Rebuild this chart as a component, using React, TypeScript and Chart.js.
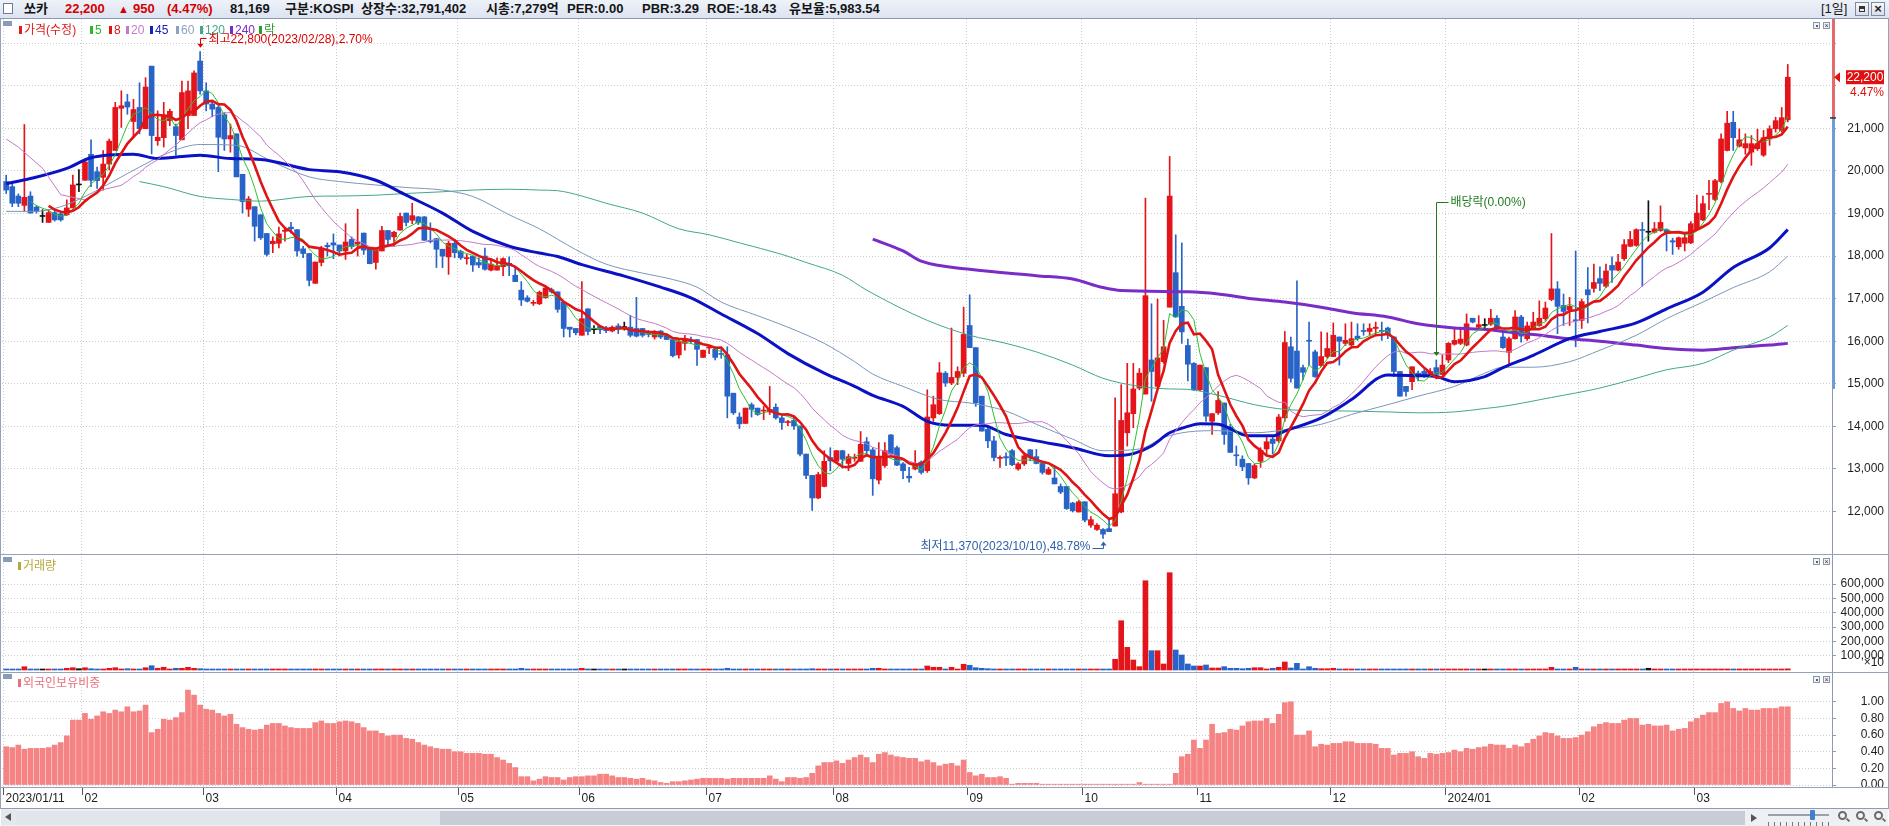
import React, { useEffect, useRef } from "react";
import { Chart, registerables } from "chart.js";

Chart.register(...registerables);

const FONT_NUM = "'Liberation Sans', Arial, sans-serif";
const FONT_KR = "'Liberation Sans', 'Noto Sans CJK KR', sans-serif";

// ---------------- DATA ----------------
const OPEN = [
  19750,19630,19410,19190,19410,19150,18930,18790,19020,18990,
  18970,19130,19670,19780,20390,19980,19850,20160,20480,21470,
  21620,21160,21490,20990,22460,20710,20780,21180,21040,20730,
  21300,21300,22580,21880,21570,21490,21320,20750,20870,19920,
  19100,19160,18970,18530,18290,18300,18580,18680,18620,18170,
  18060,17360,17850,18250,18310,18260,18120,18390,18280,18540,
  18160,17850,18120,18600,18450,18610,19010,18840,18920,18920,
  18360,18410,18160,17980,18300,18110,17940,18000,17850,18000,
  17670,17670,17750,17830,17550,17200,17020,16890,16880,17020,
  17210,17160,16920,16330,16300,16140,16760,16270,16350,16310,
  16240,16360,16320,16330,16300,16300,16190,16100,16240,16140,
  16040,15680,15950,16030,16040,15620,15840,15810,15700,15680,
  14780,14220,14070,14510,14430,14360,14340,14450,14200,14090,
  14140,14010,13350,12850,12320,12590,13270,13180,13430,13130,
  13250,13180,13640,13450,12740,13080,13800,13500,13120,12830,
  13000,13160,12960,14200,14300,15250,15020,15150,15250,16370,
  15850,14710,13930,13660,13250,13290,13430,13000,13120,13450,
  13290,13130,12880,12790,12590,12590,12200,11990,12230,11680,
  11580,11580,11600,11660,11990,13850,14300,14900,14760,15560,
  14940,15520,16800,17610,16820,15900,15480,14860,15380,14120,
  14320,14550,13990,13330,13230,13130,12790,13180,13470,13700,
  13660,14200,15870,15770,15380,16020,15750,15430,15640,15640,
  16100,15950,15910,16120,16240,16230,16300,16240,16310,16100,
  15290,14940,15050,15250,15290,15190,15380,15220,15560,15930,
  15950,15910,16540,16330,16370,16400,16540,16100,15740,16060,
  16570,16060,16310,16370,16530,16980,17230,16840,16740,16500,
  16490,17210,17240,17470,17290,17780,17670,17940,18230,18250,
  18610,18560,18560,18600,18620,18360,18220,18300,18310,18620,
  18850,19450,19330,19750,20480,21140,20580,20540,20440,20520,
  20370,20750,20990,20950,21200,
];
const HIGH = [
  19900,19710,19460,21090,19510,19190,19090,19090,19090,19050,
  19320,19900,20030,20250,20730,20090,20480,20750,21610,21880,
  21800,21680,22070,22190,22460,21410,21610,21450,21100,22110,
  22110,22350,22800,22070,21650,21530,21370,21100,20870,19920,
  19400,19160,18970,18530,18450,18680,18660,18790,18620,18230,
  18060,17860,18230,18310,18520,18260,18760,18450,19100,18540,
  18160,18170,18700,18600,18580,19010,19010,19240,18930,18930,
  18780,18410,18160,18350,18390,18140,18040,18000,17960,18190,
  17920,17960,17960,17980,17730,17400,17070,16960,17180,17290,
  17250,17160,16920,16330,16300,17400,16760,16370,16370,16350,
  16360,16410,16450,16610,17030,16300,16250,16250,16250,16140,
  16060,16020,16140,16100,16040,15790,15890,15870,15830,15870,
  14780,14320,14430,14550,14430,14470,14940,14530,14280,14140,
  14220,14010,13350,12850,12920,13430,13500,13440,13440,13350,
  13350,13880,13740,13500,13620,13620,13810,13540,13150,13040,
  13430,13190,14860,14710,15500,15290,16310,15400,16800,17090,
  15850,14710,13970,13770,13310,13380,13460,13150,13380,13460,
  13460,13160,13040,13040,12650,12590,12220,12260,12230,11880,
  11720,11600,11800,14670,14980,15480,15480,15360,19360,16880,
  16990,16490,20340,18500,18310,16050,15500,15440,15380,14300,
  14820,14550,14050,13540,13310,13130,13120,13500,13740,13780,
  14280,16230,16100,17420,15440,16450,15790,16220,16200,16430,
  16100,16410,16450,16410,16410,16410,16450,16450,16330,16100,
  15290,14940,15400,15300,15330,15360,15560,15680,15970,16290,
  16330,16640,16540,16600,16530,16750,16600,16210,16100,16720,
  16610,16450,16680,16950,16920,18530,17400,17110,17030,18120,
  16990,17730,17810,17750,17810,17980,18040,18390,18580,18640,
  18790,19300,18790,19180,18640,18420,18450,18530,18810,19430,
  19410,19780,19800,20870,21400,21400,20990,20870,20830,20980,
  20950,21060,21260,21490,22500,
];
const LOW = [
  19470,19160,19160,19050,19010,19010,18790,18790,18820,18820,
  18950,19130,19510,19780,19630,19590,19550,20020,20480,21020,
  21330,20790,20870,20990,20400,20600,20560,21060,20370,20730,
  20990,21300,21800,21410,21270,19980,20480,20440,19860,19010,
  18930,18350,18390,18000,18080,18190,18350,18540,18000,17960,
  17300,17360,17770,18000,17940,18000,17920,18170,18000,18040,
  17820,17690,18120,18230,18230,18610,18710,18760,18740,18370,
  18310,17730,17730,17570,17960,17920,17810,17640,17730,17670,
  17650,17670,17540,17540,17400,16840,16920,16840,16860,17010,
  17130,16680,16100,16100,16150,16140,16150,16180,16180,16200,
  16220,16180,16260,16100,16100,16100,16100,16050,16060,16040,
  15630,15600,15790,15950,15430,15620,15710,15560,15600,14200,
  14280,13950,14070,14220,14260,14160,14280,14170,13930,14020,
  13930,13310,12770,12030,12300,12580,12960,13160,13020,12960,
  13180,13180,13350,12380,12650,13040,13350,13080,12770,12690,
  12980,12880,12920,14120,14280,14940,14980,14980,15170,15850,
  14470,13890,13500,13190,13040,13080,13080,12970,13080,13190,
  13120,12880,12870,12650,12420,12050,11990,11990,11760,11630,
  11560,11370,11530,11660,11970,13540,13970,14860,14760,14590,
  14920,15480,16800,16570,15950,15070,14840,14840,14120,13810,
  14280,13580,13390,13080,12960,12640,12770,13040,13310,13350,
  13620,14120,15040,14900,15090,15440,15150,15400,15600,15640,
  15440,15900,15890,16020,16140,16140,16140,16020,16060,15170,
  14710,14710,14860,15070,15150,15170,15220,15210,15500,15910,
  15920,15890,16430,16290,16260,16370,16260,15830,15480,16050,
  15980,16020,16280,16350,16490,16950,16180,16370,16370,15870,
  16300,16430,17150,17190,17260,17380,17650,17900,18220,18230,
  17290,18350,18540,18580,18120,18040,18160,18120,18290,18600,
  18830,19090,19300,19720,20470,20480,20560,20390,20130,20480,
  20340,20600,20910,20910,21150,
];
const CLOSE = [
  19550,19240,19240,19380,19010,19050,18930,19020,18850,18850,
  19130,19670,19670,20210,19780,19770,20160,20700,21490,21530,
  21500,21440,20990,21970,20830,20790,21320,21400,20830,21840,
  21880,22300,21880,21570,21450,20790,20750,20830,19860,19280,
  19340,18700,18430,18040,18350,18520,18610,18640,18120,18060,
  17430,17860,18190,18220,18260,18120,18330,18220,18330,18140,
  17820,18170,18600,18390,18560,18930,18790,18950,18780,18370,
  18340,18160,18000,18300,18080,17960,17960,17790,17790,17690,
  17810,17770,17940,17770,17400,16970,16940,16900,17150,17250,
  17160,16750,16300,16280,16200,16530,16230,16270,16270,16250,
  16330,16300,16320,16140,16120,16140,16160,16230,16100,16040,
  15660,15990,16060,15990,15810,15790,15850,15620,15690,14710,
  14320,14060,14430,14400,14280,14380,14400,14200,14090,14110,
  14010,13350,12850,12320,12870,13180,13190,13430,13230,13290,
  13260,13580,13430,12770,13270,13430,13350,13090,12960,12790,
  13120,12920,14220,14510,15260,15020,15150,15290,16160,15850,
  14550,13890,13660,13270,13260,13260,13100,13120,13310,13260,
  13130,12920,12990,12650,12460,12070,12020,12230,11800,11810,
  11680,11470,11530,12420,14140,14320,14880,15250,17070,15290,
  15610,15870,19410,16570,16220,15460,14860,15440,14240,14300,
  14610,13810,13390,13310,13050,12790,13080,13440,13640,13600,
  14220,15970,15130,14900,15270,16000,15170,15640,15830,16140,
  16000,16020,16060,16060,16230,16300,16330,16230,16160,15290,
  14710,14820,15400,15190,15210,15290,15220,15440,15950,16020,
  16050,16410,16450,16390,16370,16540,16330,15850,16060,16570,
  16120,16360,16450,16540,16780,17230,16820,16700,16820,16480,
  16930,17090,17380,17360,17650,17670,17860,18270,18390,18620,
  18600,18560,18640,18790,18530,18330,18430,18430,18760,19010,
  19230,19460,19770,20750,21120,20780,20730,20640,20640,20640,
  20780,20990,21180,21250,22200,
];
// volume (axis units, x10 shares)
const VOLUME = [
  6000,5000,5000,23000,6000,5000,4000,5000,5000,6000,
  12000,16000,9000,16000,9000,6000,5000,12000,16000,6000,
  9000,6000,6000,16000,30000,12000,19000,6000,12000,12000,
  19000,12000,9000,6000,5000,5000,5000,5000,6000,5000,
  5000,5000,5000,5000,5000,5000,5000,5000,5000,5000,
  6000,5000,5000,5000,5000,5000,5000,5000,6000,5000,
  5000,5000,5000,5000,5000,5000,5000,5000,5000,5000,
  5000,5000,5000,5000,5000,5000,5000,5000,5000,5000,
  5000,5000,5000,5000,6000,12000,5000,5000,5000,5000,
  5000,5000,6000,5000,5000,12000,5000,5000,5000,5000,
  5000,5000,5000,5000,6000,5000,5000,5000,5000,5000,
  6000,5000,5000,5000,5000,5000,5000,5000,5000,12000,
  6000,5000,5000,5000,5000,5000,5000,5000,5000,5000,
  5000,6000,6000,9000,6000,6000,5000,5000,5000,5000,
  5000,5000,5000,12000,12000,5000,5000,5000,5000,5000,
  5000,5000,28000,19000,19000,6000,19000,6000,40000,33000,
  16000,12000,9000,6000,5000,5000,5000,5000,5000,5000,
  5000,5000,5000,5000,5000,5000,5000,6000,5000,5000,
  5000,6000,5000,74700,344000,158400,69800,23300,623000,134700,
  134700,41900,679000,139600,104700,41900,27900,27900,34900,14000,
  14000,23300,12000,12000,9000,12000,16000,16000,5000,12000,
  19000,55800,14000,46500,7000,23000,12000,9000,9000,12000,
  5000,5000,5000,5000,5000,5000,5000,5000,5000,5000,
  5000,5000,5000,5000,5000,5000,5000,5000,5000,5000,
  5000,5000,5000,5000,5000,5000,5000,5000,5000,5000,
  5000,5000,5000,5000,5000,19000,5000,5000,5000,19000,
  5000,5000,5000,5000,5000,5000,5000,5000,5000,5000,
  5000,12000,5000,5000,5000,5000,5000,5000,5000,5000,
  5000,5000,5000,5000,5000,5000,5000,5000,5000,5000,
  5000,5000,5000,5000,8117,
];
// foreign ownership ratio (%)
const FOREIGN = [
  0.46,0.45,0.48,0.43,0.44,0.44,0.44,0.45,0.48,0.51,
  0.59,0.78,0.78,0.86,0.79,0.83,0.88,0.86,0.90,0.88,
  0.94,0.88,0.89,0.96,0.63,0.67,0.79,0.78,0.81,0.87,
  1.14,1.08,0.96,0.91,0.90,0.86,0.83,0.85,0.73,0.69,
  0.67,0.66,0.67,0.72,0.74,0.74,0.71,0.69,0.68,0.68,
  0.68,0.75,0.77,0.74,0.74,0.76,0.77,0.76,0.74,0.69,
  0.65,0.65,0.62,0.59,0.60,0.60,0.56,0.55,0.51,0.48,
  0.46,0.44,0.43,0.43,0.40,0.40,0.38,0.38,0.38,0.37,
  0.37,0.33,0.30,0.26,0.21,0.10,0.10,0.05,0.07,0.10,
  0.09,0.09,0.06,0.09,0.10,0.10,0.11,0.11,0.13,0.13,
  0.11,0.09,0.09,0.08,0.07,0.08,0.06,0.05,0.03,0.02,
  0.04,0.04,0.05,0.06,0.07,0.08,0.08,0.08,0.08,0.07,
  0.08,0.08,0.08,0.08,0.08,0.08,0.11,0.07,0.04,0.09,
  0.09,0.08,0.09,0.14,0.23,0.27,0.27,0.29,0.26,0.30,
  0.33,0.36,0.33,0.27,0.37,0.39,0.36,0.34,0.33,0.32,
  0.32,0.28,0.30,0.27,0.23,0.25,0.26,0.23,0.30,0.15,
  0.11,0.13,0.09,0.09,0.10,0.08,0.01,0.02,0.02,0.02,
  0.02,0.01,0.01,0.01,0.01,0.01,0.01,0.01,0.01,0.01,
  0.01,0.01,0.01,0.01,0.01,0.01,0.01,0.03,0.01,0.01,
  0.01,0.01,0.01,0.14,0.34,0.37,0.54,0.44,0.54,0.73,
  0.62,0.63,0.67,0.66,0.71,0.76,0.77,0.77,0.80,0.74,
  0.85,0.99,1.00,0.60,0.60,0.65,0.46,0.49,0.48,0.50,
  0.50,0.52,0.52,0.50,0.50,0.50,0.49,0.44,0.44,0.36,
  0.38,0.38,0.40,0.34,0.32,0.38,0.37,0.38,0.39,0.42,
  0.40,0.44,0.43,0.45,0.46,0.49,0.48,0.48,0.44,0.48,
  0.46,0.50,0.55,0.59,0.63,0.62,0.59,0.56,0.56,0.57,
  0.60,0.64,0.70,0.73,0.75,0.74,0.74,0.78,0.80,0.80,
  0.72,0.73,0.71,0.71,0.72,0.65,0.67,0.68,0.76,0.80,
  0.84,0.87,0.87,0.98,1.00,0.92,0.89,0.92,0.90,0.90,
  0.92,0.92,0.92,0.94,0.94,
];

// long moving averages (candle index, value)
const MA45_IDX = [0,4,10,14,21,25,32,37,42,50,55,61,66,72,77,83,88,91,95,102,108,113,118,124,129,135,140,143,148,152,156,161,165,170,176,182,186,189,192,195,197,200,205,209,211,217,222,228,233,236,239,244,247,252,258,263,269,274,280,285,291,294];
const MA45_VAL = [19700,19820,20060,20310,20390,20290,20370,20290,20270,20030,19980,19780,19430,19010,18580,18230,18070,17990,17800,17530,17270,17020,16640,16180,15710,15250,14940,14730,14470,14120,14030,14030,13810,13660,13500,13310,13360,13540,13850,14000,14060,14050,13780,13780,13890,14200,14630,15210,15190,15170,15050,15170,15380,15670,16060,16230,16430,16760,17150,17730,18190,18620];
const MA60_IDX = [0,5,9,13,18,22,27,32,38,44,50,55,61,66,72,77,83,88,94,99,105,110,114,118,124,129,135,140,143,148,154,159,165,170,176,181,187,191,195,200,206,211,217,222,228,233,239,244,247,252,258,263,269,274,280,285,291,294];
const MA60_VAL = [19050,19050,19160,19400,19780,20090,20440,20620,20600,20210,19860,19750,19670,19610,19550,19400,18970,18640,18150,17810,17600,17450,17270,16920,16600,16330,15950,15520,15230,14940,14630,14550,14360,14050,13700,13430,13470,13740,13870,13900,13850,13920,14050,14280,14510,14710,14940,15250,15390,15390,15520,15790,16140,16530,16920,17260,17630,18000];
const MA120_IDX = [22,26,32,37,42,50,55,61,66,72,77,83,88,91,95,99,105,111,116,121,128,132,138,142,152,159,165,170,176,181,187,192,195,200,206,211,217,222,228,233,239,244,247,255,263,269,274,280,285,291,294];
const MA120_VAL = [19750,19630,19400,19330,19290,19400,19410,19430,19470,19510,19550,19570,19550,19535,19410,19240,19010,18640,18500,18310,18040,17850,17550,17200,16490,16140,15950,15750,15440,15130,14940,14880,14870,14730,14510,14400,14370,14360,14340,14320,14340,14420,14470,14680,14900,15130,15330,15480,15790,16100,16370];
const MA240_IDX = [143,148,151,159,170,176,181,184,195,200,206,211,217,222,228,233,239,244,247,252,258,263,269,274,280,285,291,294];
const MA240_VAL = [18400,18120,17880,17690,17540,17460,17260,17190,17160,17110,16990,16920,16800,16670,16570,16410,16310,16280,16230,16160,16060,16000,15910,15830,15790,15850,15910,15950];
// 20-day MA before enough history is visible (read)
const MA20_LEAD_IDX = [0,2,6,9,13,16];
const MA20_LEAD_VAL = [20750,20560,20060,19440,19320,19560];

const MONTH_START = [0,13,33,55,75,95,116,137,159,178,197,219,238,260,279];
const MONTH_LABELS = ["2023/01/11","02","03","04","05","06","07","08","09","10","11","12","2024/01","02","03"];
const PRICE_TICKS = [12000,13000,14000,15000,16000,17000,18000,19000,20000,21000,22000,23000];
const VOLUME_TICKS = [100000,200000,300000,400000,500000,600000];
const FOREIGN_TICKS = [0,0.2,0.4,0.6,0.8,1.0];

const UPPER_LIMIT = 27620;
const LOWER_LIMIT = 14880;
const DIV_IDX = 236;
const DIV_LABEL_PRICE = 19270;
const HIGH_DATE = "2023/02/28";
const LOW_DATE = "2023/10/10";

// ---------------- STYLE ----------------
const X_MIN = -0.693;
const X_MAX = 301.3;
const PRICE_MIN = 11004, PRICE_MAX = 23567;
const VOL_MIN = -13957, VOL_MAX = 809490;
const FOR_MIN = -0.024, FOR_MAX = 1.358;
const AXIS_W = 57;
const GRID = "#cdcdcd";
const AXIS = "#8e9aae";
const UP = "#e3151b";
const DOWN = "#2863c8";
const DOJI = "#111111";

const fmtInt = (v: number) => Math.round(v).toLocaleString("en-US");
const candleColor = (i: number) => (CLOSE[i] > OPEN[i] ? UP : CLOSE[i] < OPEN[i] ? DOWN : DOJI);

function movingAverage(src: number[], n: number) {
  const pts: { x: number; y: number }[] = [];
  for (let i = n - 1; i < src.length; i++) {
    let s = 0;
    for (let k = i - n + 1; k <= i; k++) s += src[k];
    pts.push({ x: i, y: s / n });
  }
  return pts;
}
const pairs = (idx: number[], val: number[]) => idx.map((x, k) => ({ x, y: val[k] }));

function xScale() {
  return {
    type: "linear",
    min: X_MIN,
    max: X_MAX,
    offset: false,
    afterBuildTicks: (s: any) => {
      s.ticks = MONTH_START.map((i) => ({ value: i - 0.5 }));
    },
    afterFit: (s: any) => {
      s.height = 0;
    },
    ticks: { display: false },
    grid: { color: GRID, drawTicks: false, offset: false, lineWidth: 1 },
    border: { display: false, dash: [1, 2] },
  };
}
function yScale(min: number, max: number, ticks: number[], fmt: (v: number) => string) {
  return {
    type: "linear",
    position: "right",
    min,
    max,
    afterBuildTicks: (s: any) => {
      s.ticks = ticks.map((v) => ({ value: v }));
    },
    afterFit: (s: any) => {
      s.width = AXIS_W;
      s.paddingTop = 0;
      s.paddingBottom = 0;
    },
    ticks: {
      mirror: true,
      padding: 52,
      autoSkip: false,
      color: "#1e1e1e",
      font: { family: FONT_NUM, size: 12 },
      callback: (v: any) => fmt(Number(v)),
    },
    grid: { color: GRID, drawTicks: true, tickLength: 4, tickColor: AXIS, lineWidth: 1 },
    border: { display: true, color: AXIS, width: 1, dash: [1, 2] },
  };
}
function baseOptions(yCfg: any, padBottom = 0) {
  return {
    responsive: false,
    animation: false,
    events: [],
    layout: { padding: { left: 2, right: 0, top: 0, bottom: padBottom } },
    plugins: { legend: { display: false }, tooltip: { enabled: false } },
    scales: { x: xScale(), y: yCfg },
  };
}

const priceOverlay = {
  id: "priceOverlay",
  afterDraw(chart: any) {
    const { ctx, chartArea: a } = chart;
    const xs = chart.scales.x;
    const ys = chart.scales.y;
    const last = CLOSE.length - 1;
    const prev = CLOSE[last - 1];
    ctx.save();
    // daily range bar on the axis
    const yPrev = ys.getPixelForValue(prev);
    const yUp = Math.max(a.top, ys.getPixelForValue(UPPER_LIMIT));
    const yDn = Math.min(a.bottom, ys.getPixelForValue(LOWER_LIMIT));
    ctx.fillStyle = "#e46a6a";
    ctx.fillRect(a.right, yUp, 3, yPrev - yUp);
    ctx.fillStyle = "#6f9bd6";
    ctx.fillRect(a.right, yPrev, 3, yDn - yPrev);
    ctx.fillStyle = "#333";
    ctx.fillRect(a.right - 2, yPrev - 0.5, 6, 1.5);
    // current price tag
    const yc = ys.getPixelForValue(CLOSE[last]);
    ctx.fillStyle = "#e01010";
    ctx.beginPath();
    ctx.moveTo(a.right + 2, yc);
    ctx.lineTo(a.right + 8, yc - 5);
    ctx.lineTo(a.right + 8, yc + 5);
    ctx.closePath();
    ctx.fill();
    ctx.fillRect(a.right + 14, yc - 7, 38, 14);
    ctx.font = `12px ${FONT_NUM}`;
    ctx.textBaseline = "middle";
    ctx.textAlign = "center";
    ctx.fillStyle = "#ffffff";
    ctx.fillText(fmtInt(CLOSE[last]), a.right + 33, yc + 0.5);
    ctx.textAlign = "right";
    ctx.fillStyle = "#e01010";
    ctx.fillText(((CLOSE[last] - prev) / prev * 100).toFixed(2) + "%", a.right + 52, yc + 15);

    // high annotation
    let hi = 0;
    HIGH.forEach((v, i) => { if (v > HIGH[hi]) hi = i; });
    const xh = Math.round(xs.getPixelForValue(hi)) + 0.5;
    const yh = ys.getPixelForValue(HIGH[hi]);
    ctx.strokeStyle = "#e00000";
    ctx.fillStyle = "#e00000";
    ctx.lineWidth = 1;
    ctx.beginPath();
    ctx.moveTo(xh + 6, Math.round(yh - 14) + 0.5);
    ctx.lineTo(xh, Math.round(yh - 14) + 0.5);
    ctx.lineTo(xh, yh - 7);
    ctx.stroke();
    ctx.beginPath();
    ctx.moveTo(xh - 3, yh - 8);
    ctx.lineTo(xh + 3, yh - 8);
    ctx.lineTo(xh, yh - 4);
    ctx.closePath();
    ctx.fill();
    ctx.font = `12px ${FONT_KR}`;
    ctx.textAlign = "left";
    const hiPct = ((HIGH[hi] - CLOSE[last]) / CLOSE[last] * 100).toFixed(2);
    ctx.fillText(`최고${fmtInt(HIGH[hi])}(${HIGH_DATE}),${hiPct}%`, xh + 8, yh - 12);

    // low annotation
    let lo = 0;
    LOW.forEach((v, i) => { if (v < LOW[lo]) lo = i; });
    const xl = Math.round(xs.getPixelForValue(lo)) + 0.5;
    const yl = ys.getPixelForValue(LOW[lo]);
    ctx.strokeStyle = "#2f62a8";
    ctx.fillStyle = "#2f62a8";
    ctx.beginPath();
    ctx.moveTo(xl - 11, Math.round(yl + 10) + 0.5);
    ctx.lineTo(xl, Math.round(yl + 10) + 0.5);
    ctx.lineTo(xl, yl + 6);
    ctx.stroke();
    ctx.beginPath();
    ctx.moveTo(xl - 3, yl + 7);
    ctx.lineTo(xl + 3, yl + 7);
    ctx.lineTo(xl, yl + 3);
    ctx.closePath();
    ctx.fill();
    ctx.textAlign = "right";
    const loPct = ((CLOSE[last] - LOW[lo]) / CLOSE[last] * 100).toFixed(2);
    ctx.fillText(`최저${fmtInt(LOW[lo])}(${LOW_DATE}),${loPct}%`, xl - 13, yl + 8);

    // ex-dividend marker
    const xd = Math.round(xs.getPixelForValue(DIV_IDX)) + 0.5;
    const yTop = Math.round(ys.getPixelForValue(DIV_LABEL_PRICE)) + 0.5;
    const yBot = ys.getPixelForValue(HIGH[DIV_IDX]) - 4;
    ctx.strokeStyle = "#1f7a1f";
    ctx.fillStyle = "#1f7a1f";
    ctx.beginPath();
    ctx.moveTo(xd + 12, yTop);
    ctx.lineTo(xd, yTop);
    ctx.lineTo(xd, yBot - 3);
    ctx.stroke();
    ctx.beginPath();
    ctx.moveTo(xd - 3, yBot - 4);
    ctx.lineTo(xd + 3, yBot - 4);
    ctx.lineTo(xd, yBot);
    ctx.closePath();
    ctx.fill();
    ctx.textAlign = "left";
    ctx.fillText("배당락(0.00%)", xd + 14, yTop);
    ctx.restore();
  },
};

const axisLabels = {
  id: "axisLabels",
  afterDraw(chart: any) {
    const { ctx, chartArea: a } = chart;
    const xs = chart.scales.x;
    ctx.save();
    ctx.font = `12px ${FONT_NUM}`;
    ctx.textBaseline = "middle";
    ctx.textAlign = "left";
    MONTH_START.forEach((i, k) => {
      const px = Math.round(xs.getPixelForValue(i - 0.5)) + 0.5;
      ctx.strokeStyle = "#555";
      ctx.lineWidth = 1;
      ctx.beginPath();
      ctx.moveTo(px, a.bottom + 1);
      ctx.lineTo(px, a.bottom + 8);
      ctx.stroke();
      ctx.fillStyle = "#1e1e1e";
      ctx.fillText(MONTH_LABELS[k], px + 2, a.bottom + 12);
    });
    ctx.restore();
  },
};

function buildPrice(canvas: HTMLCanvasElement) {
  const colors = CLOSE.map((_, i) => candleColor(i));
  const wicks = CLOSE.map((_, i) => ({ x: i, y: [LOW[i], HIGH[i]] }));
  const bodies = CLOSE.map((_, i) => ({ x: i, y: [Math.min(OPEN[i], CLOSE[i]), Math.max(OPEN[i], CLOSE[i])] }));
  const ma20 = [...pairs(MA20_LEAD_IDX, MA20_LEAD_VAL), ...movingAverage(CLOSE, 20)];
  const line = (data: any[], color: string, width: number, order: number, smooth: boolean) => ({
    type: "line",
    data,
    borderColor: color,
    borderWidth: width,
    pointRadius: 0,
    fill: false,
    order,
    tension: 0,
    cubicInterpolationMode: smooth ? "monotone" : "default",
  });
  return new Chart(canvas, {
    type: "bar",
    data: {
      datasets: [
        line(pairs(MA240_IDX, MA240_VAL), "#7a2cc6", 3, 7, true),
        line(pairs(MA120_IDX, MA120_VAL), "#43a68a", 1, 6, true),
        line(pairs(MA60_IDX, MA60_VAL), "#7a97ba", 1, 5, true),
        line(pairs(MA45_IDX, MA45_VAL), "#0a12c4", 3, 4, true),
        line(ma20, "#c27ac8", 1, 3, false),
        line(movingAverage(CLOSE, 8), "#e01414", 2.6, 1, false),
        line(movingAverage(CLOSE, 5), "#2fc02f", 1, 2, false),
        { type: "bar", data: bodies, backgroundColor: colors, barThickness: 5, grouped: false, minBarLength: 1, order: 20 },
        { type: "bar", data: wicks, backgroundColor: colors, barThickness: 1, grouped: false, order: 21 },
      ],
    },
    options: baseOptions(yScale(PRICE_MIN, PRICE_MAX, PRICE_TICKS, (v) => (v > 21500 ? "" : fmtInt(v)))),
    plugins: [priceOverlay],
  } as any);
}

function buildVolume(canvas: HTMLCanvasElement) {
  const colors = CLOSE.map((_, i) => candleColor(i));
  return new Chart(canvas, {
    type: "bar",
    data: {
      datasets: [
        { data: VOLUME.map((v, i) => ({ x: i, y: v })), backgroundColor: colors, barThickness: 5, grouped: false, minBarLength: 1 },
      ],
    },
    options: baseOptions(yScale(VOL_MIN, VOL_MAX, VOLUME_TICKS, fmtInt)),
  } as any);
}

function buildForeign(canvas: HTMLCanvasElement) {
  return new Chart(canvas, {
    type: "bar",
    data: {
      datasets: [
        { data: FOREIGN.map((v, i) => ({ x: i, y: v })), backgroundColor: "#f58383", barThickness: 5, grouped: false },
      ],
    },
    options: baseOptions(yScale(FOR_MIN, FOR_MAX, FOREIGN_TICKS, (v) => v.toFixed(2)), 21),
    plugins: [axisLabels],
  } as any);
}

const LEGEND = [
  { x: 19, t: "가격(수정)", c: "#e01c1c" },
  { x: 90, t: "5", c: "#2cb82c" },
  { x: 109, t: "8", c: "#e01414" },
  { x: 126, t: "20", c: "#c27ac8" },
  { x: 150, t: "45", c: "#1420c0" },
  { x: 176, t: "60", c: "#8aa2c2" },
  { x: 200, t: "120", c: "#43a68a" },
  { x: 230, t: "240", c: "#7a2cc6" },
  { x: 259, t: "락", c: "#2a9e2a" },
];

export default function App() {
  const pRef = useRef<HTMLCanvasElement | null>(null);
  const vRef = useRef<HTMLCanvasElement | null>(null);
  const fRef = useRef<HTMLCanvasElement | null>(null);

  useEffect(() => {
    Chart.defaults.font.family = FONT_NUM;
    const charts = [buildPrice(pRef.current!), buildVolume(vRef.current!), buildForeign(fRef.current!)];
    return () => charts.forEach((c) => c.destroy());
  }, []);

  const last = CLOSE.length - 1;
  const prev = CLOSE[last - 1];
  const diff = CLOSE[last] - prev;
  const pct = ((diff / prev) * 100).toFixed(2);

  const box = (l: number, t: number, w: number, h: number, extra: any = {}): any => ({
    position: "absolute", left: l, top: t, width: w, height: h, ...extra,
  });
  const hline = (y: number, x0 = 0, x1 = 1889, c = "#95a2b8") => <div style={box(x0, y, x1 - x0, 1, { background: c })} />;
  const txt = (l: number, top: number, s: string, color: string, size = 13, weight = 700, extra: any = {}) => (
    <span style={{ position: "absolute", left: l, top, lineHeight: "18px", fontSize: size, fontWeight: weight, color, fontFamily: FONT_KR, whiteSpace: "nowrap", ...extra }}>{s}</span>
  );
  const panelIcon = (y: number) => <div style={box(3, y, 9, 5, { background: "#8a9bb8" })} />;
  const panelBtns = (y: number) => (
    <>
      <div style={box(1813, y, 7, 7, { background: "#eef1f6", border: "1px solid #8a96aa", boxSizing: "border-box" })}>
        <div style={box(1.5, 2, 2, 2, { background: "#55627a" })} />
      </div>
      <div style={box(1823, y, 7, 7, { background: "#eef1f6", border: "1px solid #8a96aa", boxSizing: "border-box", fontSize: 7, lineHeight: "5px", textAlign: "center", color: "#333", fontFamily: FONT_NUM })}>×</div>
    </>
  );

  return (
    <div style={box(0, 0, 1889, 826, { background: "#ffffff", overflow: "hidden", fontFamily: FONT_KR })}>
      {/* header */}
      <div style={box(0, 0, 1889, 18, { background: "linear-gradient(#eef2f9,#dce4f1)" })} />
      <div style={box(3, 3, 10, 11, { background: "#fff", border: "1px solid #6d7c93", boxSizing: "border-box" })} />
      {txt(24, 0, "쏘카", "#151515")}
      {txt(65, 0, fmtInt(CLOSE[last]), "#d40000")}
      {txt(118, 0, "▲", "#d40000", 11)}
      {txt(133, 0, fmtInt(diff), "#d40000")}
      {txt(167, 0, `(${pct}%)`, "#d40000")}
      {txt(230, 0, "81,169", "#151515")}
      {txt(285, 0, "구분:KOSPI", "#151515")}
      {txt(361, 0, "상장수:32,791,402", "#151515")}
      {txt(486, 0, "시총:7,279억", "#151515")}
      {txt(567, 0, "PER:0.00", "#151515")}
      {txt(642, 0, "PBR:3.29", "#151515")}
      {txt(707, 0, "ROE:-18.43", "#151515")}
      {txt(789, 0, "유보율:5,983.54", "#151515")}
      {txt(1821, 0, "[1일]", "#1a1a1a", 13, 400)}
      <div style={box(1855, 2, 14, 14, { background: "linear-gradient(#f7f8fb,#d9dee8)", border: "1px solid #7f8ba0", boxSizing: "border-box" })}>
        <div style={box(3, 3, 6, 6, { border: "1.5px solid #333", borderTopWidth: 3, boxSizing: "border-box" })} />
      </div>
      <div style={box(1871, 2, 14, 14, { background: "linear-gradient(#f7f8fb,#d9dee8)", border: "1px solid #7f8ba0", boxSizing: "border-box", fontSize: 13, fontWeight: 700, lineHeight: "12px", textAlign: "center", color: "#222", fontFamily: FONT_NUM })}>×</div>
      {hline(18, 0, 1889, "#8a9ab4")}

      {/* charts */}
      <canvas ref={pRef} width={1889} height={535} style={box(0, 19, 1889, 535)} />
      <canvas ref={vRef} width={1889} height={118} style={box(0, 554, 1889, 118)} />
      <canvas ref={fRef} width={1889} height={136} style={box(0, 672, 1889, 136)} />

      {/* panel frame lines */}
      {hline(554)}
      {hline(672)}
      {hline(787)}
      {hline(808, 0, 1889, "#8e9bb0")}
      <div style={box(0, 19, 1, 790, { background: "#95a2b8" })} />
      <div style={box(1888, 19, 1, 790, { background: "#95a2b8" })} />

      {/* price legend */}
      {panelIcon(21)}
      {LEGEND.map((l) => (
        <React.Fragment key={l.t}>
          <div style={box(l.x, 26, 3, 8, { background: l.c })} />
          <span style={{ position: "absolute", left: l.x + 5, top: 21, lineHeight: "18px", fontSize: 12, color: l.c, fontFamily: FONT_KR, whiteSpace: "nowrap" }}>{l.t}</span>
        </React.Fragment>
      ))}
      {panelBtns(22)}

      {/* volume label */}
      {panelIcon(557)}
      <div style={box(18, 562, 3, 8, { background: "#b4a83c" })} />
      <span style={{ position: "absolute", left: 23, top: 557, lineHeight: "18px", fontSize: 12, color: "#b4a83c", fontFamily: FONT_KR }}>거래량</span>
      {panelBtns(558)}
      <span style={{ position: "absolute", right: 5, top: 655, lineHeight: "14px", fontSize: 12, color: "#1e1e1e", fontFamily: FONT_NUM }}>×10</span>

      {/* foreign label */}
      {panelIcon(674)}
      <div style={box(18, 679, 3, 8, { background: "#e8707c" })} />
      <span style={{ position: "absolute", left: 23, top: 674, lineHeight: "18px", fontSize: 12, color: "#e8707c", fontFamily: FONT_KR }}>외국인보유비중</span>
      {panelBtns(676)}

      {/* scrollbar row */}
      <div style={box(1, 809, 1887, 17, { background: "#eef0f4" })} />
      <div style={box(1, 810, 15, 15, { background: "#e4e7ed" })}>
        <div style={box(4, 3, 0, 0, { borderTop: "4.5px solid transparent", borderBottom: "4.5px solid transparent", borderRight: "6px solid #555" })} />
      </div>
      <div style={box(16, 811, 1729, 14, { background: "#e1e5ec" })} />
      <div style={box(440, 811, 1305, 14, { background: "#c7ccd6" })} />
      <div style={box(1751, 814, 0, 0, { borderTop: "4.5px solid transparent", borderBottom: "4.5px solid transparent", borderLeft: "6px solid #555" })} />
      <div style={box(1768, 814, 61, 2, { background: "#9aa0aa" })} />
      <div style={box(1810, 810, 5, 10, { background: "#3d82d2", borderRadius: 1 })} />
      {[0, 6, 12, 18, 24, 30, 36, 42, 48, 54, 60].map((d) => (
        <div key={d} style={box(1768 + d, 822, 1, 4, { background: "#777" })} />
      ))}
      {[1838, 1856, 1874].map((x) => (
        <React.Fragment key={x}>
          <div style={box(x, 811, 9, 9, { border: "2px solid #6a6a6a", borderRadius: "50%", boxSizing: "border-box", background: "#f4f4f4" })} />
          <div style={box(x + 8, 819, 4, 2, { background: "#6a6a6a", transform: "rotate(45deg)" })} />
        </React.Fragment>
      ))}
    </div>
  );
}
